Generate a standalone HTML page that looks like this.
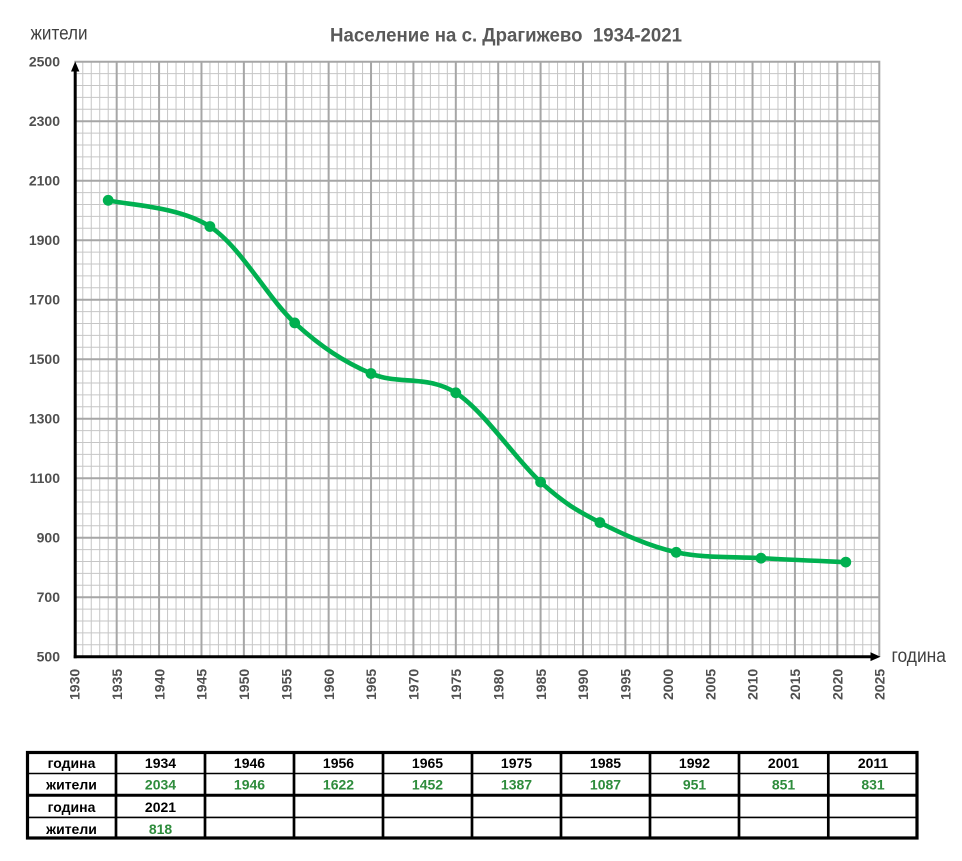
<!DOCTYPE html>
<html>
<head>
<meta charset="utf-8">
<style>
html,body{margin:0;padding:0;background:#fff;}
svg{display:block;}
</style>
</head>
<body>
<svg width="962" height="861" viewBox="0 0 962 861" xmlns="http://www.w3.org/2000/svg">
<rect width="962" height="861" fill="#fff"/>
<!-- minor grid -->
<path fill="none" stroke="#c6c6c6" stroke-width="1" d="
M82.78 61.7V656.7M91.26 61.7V656.7M99.73 61.7V656.7M108.21 61.7V656.7
M125.17 61.7V656.7M133.65 61.7V656.7M142.12 61.7V656.7M150.60 61.7V656.7
M167.56 61.7V656.7M176.04 61.7V656.7M184.51 61.7V656.7M192.99 61.7V656.7
M209.95 61.7V656.7M218.43 61.7V656.7M226.90 61.7V656.7M235.38 61.7V656.7
M252.34 61.7V656.7M260.82 61.7V656.7M269.29 61.7V656.7M277.77 61.7V656.7
M294.73 61.7V656.7M303.21 61.7V656.7M311.68 61.7V656.7M320.16 61.7V656.7
M337.12 61.7V656.7M345.60 61.7V656.7M354.07 61.7V656.7M362.55 61.7V656.7
M379.51 61.7V656.7M387.99 61.7V656.7M396.46 61.7V656.7M404.94 61.7V656.7
M421.90 61.7V656.7M430.38 61.7V656.7M438.85 61.7V656.7M447.33 61.7V656.7
M464.29 61.7V656.7M472.77 61.7V656.7M481.24 61.7V656.7M489.72 61.7V656.7
M506.68 61.7V656.7M515.16 61.7V656.7M523.63 61.7V656.7M532.11 61.7V656.7
M549.07 61.7V656.7M557.55 61.7V656.7M566.02 61.7V656.7M574.50 61.7V656.7
M591.46 61.7V656.7M599.94 61.7V656.7M608.41 61.7V656.7M616.89 61.7V656.7
M633.85 61.7V656.7M642.33 61.7V656.7M650.80 61.7V656.7M659.28 61.7V656.7
M676.24 61.7V656.7M684.72 61.7V656.7M693.19 61.7V656.7M701.67 61.7V656.7
M718.63 61.7V656.7M727.11 61.7V656.7M735.58 61.7V656.7M744.06 61.7V656.7
M761.02 61.7V656.7M769.50 61.7V656.7M777.97 61.7V656.7M786.45 61.7V656.7
M803.41 61.7V656.7M811.89 61.7V656.7M820.36 61.7V656.7M828.84 61.7V656.7
M845.80 61.7V656.7M854.28 61.7V656.7M862.75 61.7V656.7M871.23 61.7V656.7
M74.3 73.6H879.7M74.3 85.5H879.7M74.3 97.4H879.7M74.3 109.3H879.7
M74.3 133.1H879.7M74.3 145.0H879.7M74.3 156.9H879.7M74.3 168.8H879.7
M74.3 192.6H879.7M74.3 204.5H879.7M74.3 216.4H879.7M74.3 228.3H879.7
M74.3 252.1H879.7M74.3 264.0H879.7M74.3 275.9H879.7M74.3 287.8H879.7
M74.3 311.6H879.7M74.3 323.5H879.7M74.3 335.4H879.7M74.3 347.3H879.7
M74.3 371.1H879.7M74.3 383.0H879.7M74.3 394.9H879.7M74.3 406.8H879.7
M74.3 430.6H879.7M74.3 442.5H879.7M74.3 454.4H879.7M74.3 466.3H879.7
M74.3 490.1H879.7M74.3 502.0H879.7M74.3 513.9H879.7M74.3 525.8H879.7
M74.3 549.6H879.7M74.3 561.5H879.7M74.3 573.4H879.7M74.3 585.3H879.7
M74.3 609.1H879.7M74.3 621.0H879.7M74.3 632.9H879.7M74.3 644.8H879.7"/>
<!-- major grid -->
<path fill="none" stroke="#a6a6a6" stroke-width="2" d="
M116.69 61.7V656.7M159.08 61.7V656.7M201.47 61.7V656.7M243.86 61.7V656.7
M286.25 61.7V656.7M328.64 61.7V656.7M371.03 61.7V656.7M413.42 61.7V656.7
M455.81 61.7V656.7M498.20 61.7V656.7M540.59 61.7V656.7M582.98 61.7V656.7
M625.37 61.7V656.7M667.76 61.7V656.7M710.15 61.7V656.7M752.54 61.7V656.7
M794.93 61.7V656.7M837.32 61.7V656.7M879.3 61.7V656.7
M74.3 61.7H880.3M74.3 121.2H879.7M74.3 180.7H879.7M74.3 240.2H879.7M74.3 299.7H879.7
M74.3 359.2H879.7M74.3 418.7H879.7M74.3 478.2H879.7M74.3 537.7H879.7M74.3 597.2H879.7"/>
<!-- axes -->
<line x1="75.2" y1="68" x2="75.2" y2="658.2" stroke="#000" stroke-width="3"/>
<line x1="73.7" y1="656.7" x2="873" y2="656.7" stroke="#000" stroke-width="3"/>
<polygon points="75.2,61.5 71,71.5 79.4,71.5" fill="#000"/>
<polygon points="880.5,656.7 870.5,652.3 870.5,661.1" fill="#000"/>
<!-- y labels -->
<g font-family="Liberation Sans, sans-serif" font-weight="bold" font-size="14" fill="#505050" text-anchor="end">
<text x="60" y="66.7">2500</text>
<text x="60" y="126.2">2300</text>
<text x="60" y="185.7">2100</text>
<text x="60" y="245.2">1900</text>
<text x="60" y="304.7">1700</text>
<text x="60" y="364.2">1500</text>
<text x="60" y="423.7">1300</text>
<text x="60" y="483.2">1100</text>
<text x="60" y="542.7">900</text>
<text x="60" y="602.2">700</text>
<text x="60" y="661.7">500</text>
</g>
<!-- x labels -->
<g font-family="Liberation Sans, sans-serif" font-weight="bold" font-size="14" fill="#505050">
<text transform="translate(79.5,700) rotate(-90)">1930</text>
<text transform="translate(121.9,700) rotate(-90)">1935</text>
<text transform="translate(164.3,700) rotate(-90)">1940</text>
<text transform="translate(206.7,700) rotate(-90)">1945</text>
<text transform="translate(249.1,700) rotate(-90)">1950</text>
<text transform="translate(291.5,700) rotate(-90)">1955</text>
<text transform="translate(333.8,700) rotate(-90)">1960</text>
<text transform="translate(376.2,700) rotate(-90)">1965</text>
<text transform="translate(418.6,700) rotate(-90)">1970</text>
<text transform="translate(461.0,700) rotate(-90)">1975</text>
<text transform="translate(503.4,700) rotate(-90)">1980</text>
<text transform="translate(545.8,700) rotate(-90)">1985</text>
<text transform="translate(588.2,700) rotate(-90)">1990</text>
<text transform="translate(630.6,700) rotate(-90)">1995</text>
<text transform="translate(673.0,700) rotate(-90)">2000</text>
<text transform="translate(715.4,700) rotate(-90)">2005</text>
<text transform="translate(757.7,700) rotate(-90)">2010</text>
<text transform="translate(800.1,700) rotate(-90)">2015</text>
<text transform="translate(842.5,700) rotate(-90)">2020</text>
<text transform="translate(884.7,700) rotate(-90)">2025</text>
</g>
<!-- titles -->
<text x="330" y="41.5" font-family="Liberation Sans, sans-serif" font-weight="bold" font-size="19" fill="#595959" textLength="352" lengthAdjust="spacingAndGlyphs">Население на с. Драгижево&#160; 1934-2021</text>
<text x="30.5" y="39.3" font-family="Liberation Sans, sans-serif" font-size="19" fill="#404040" textLength="57" lengthAdjust="spacingAndGlyphs">жители</text>
<text x="891.5" y="661.8" font-family="Liberation Sans, sans-serif" font-size="19" fill="#404040" textLength="54.5" lengthAdjust="spacingAndGlyphs">година</text>
<!-- series -->
<path fill="none" stroke="#00B050" stroke-width="4.6" stroke-linejoin="round" stroke-linecap="round" d="
M108.2 200.3
C125.15 204.67 178.82 206.07 209.9 226.5
C240.98 246.93 267.85 298.4 294.7 322.9
C321.55 347.4 344.15 361.85 371.0 373.5
C397.85 385.15 427.53 374.7 455.8 392.8
C484.07 410.9 516.58 460.48 540.6 482.1
C564.62 503.72 577.3 510.8 599.9 522.5
C622.5 534.2 649.35 546.35 676.2 552.3
C703.05 558.25 732.73 556.57 761.0 558.2
C789.27 559.83 831.67 561.45 845.8 562.1"/>
<g fill="#00B050">
<circle cx="108.2" cy="200.3" r="5.4"/>
<circle cx="209.9" cy="226.5" r="5.4"/>
<circle cx="294.7" cy="322.9" r="5.4"/>
<circle cx="371.0" cy="373.5" r="5.4"/>
<circle cx="455.8" cy="392.8" r="5.4"/>
<circle cx="540.6" cy="482.1" r="5.4"/>
<circle cx="599.9" cy="522.5" r="5.4"/>
<circle cx="676.2" cy="552.3" r="5.4"/>
<circle cx="761.0" cy="558.2" r="5.4"/>
<circle cx="845.8" cy="562.1" r="5.4"/>
</g>
<!-- table -->
<g stroke="#000" fill="none">
<line x1="26" y1="773.5" x2="918" y2="773.5" stroke-width="1.6"/>
<line x1="26" y1="795.3" x2="918" y2="795.3" stroke-width="3"/>
<line x1="26" y1="817.4" x2="918" y2="817.4" stroke-width="1.6"/>
<path stroke-width="2.7" d="M116 751V839M205 751V839M294 751V839M383 751V839M472 751V839M561 751V839M650 751V839M739 751V839M828.3 751V839"/>
<rect x="27.5" y="752.5" width="889.5" height="85.5" stroke-width="3.2"/>
</g>
<g font-family="Liberation Sans, sans-serif" font-weight="bold" font-size="14" text-anchor="middle" fill="#000">
<text x="71.5" y="768">година</text>
<text x="71.5" y="789.5">жители</text>
<text x="71.5" y="812">година</text>
<text x="71.5" y="833.8">жители</text>
<text x="160.5" y="768">1934</text>
<text x="249.5" y="768">1946</text>
<text x="338.5" y="768">1956</text>
<text x="427.5" y="768">1965</text>
<text x="516.5" y="768">1975</text>
<text x="605.5" y="768">1985</text>
<text x="694.5" y="768">1992</text>
<text x="783.5" y="768">2001</text>
<text x="873" y="768">2011</text>
<text x="160.5" y="812">2021</text>
</g>
<g font-family="Liberation Sans, sans-serif" font-weight="bold" font-size="14" text-anchor="middle" fill="#2e8c3c">
<text x="160.5" y="789.5">2034</text>
<text x="249.5" y="789.5">1946</text>
<text x="338.5" y="789.5">1622</text>
<text x="427.5" y="789.5">1452</text>
<text x="516.5" y="789.5">1387</text>
<text x="605.5" y="789.5">1087</text>
<text x="694.5" y="789.5">951</text>
<text x="783.5" y="789.5">851</text>
<text x="873" y="789.5">831</text>
<text x="160.5" y="833.8">818</text>
</g>
</svg>
</body>
</html>
